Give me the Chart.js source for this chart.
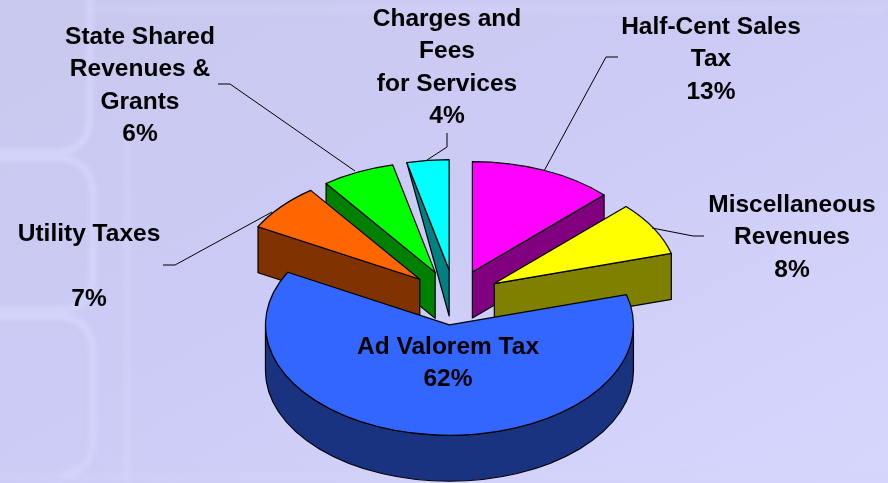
<!DOCTYPE html>
<html>
<head>
<meta charset="utf-8">
<title>Revenue sources</title>
<script src="https://cdn.jsdelivr.net/npm/chart.js@4"></script>
<style>
html,body{margin:0;padding:0;overflow:hidden;background:#cdcdf8}
#wrap{position:relative;width:888px;height:483px}
#wrap svg,#wrap canvas{position:absolute;left:0;top:0;display:block}
</style>
</head>
<body>
<div id="wrap">
<svg width="888" height="483" viewBox="0 0 888 483">
  <defs>
    <linearGradient id="bg" x1="0" y1="0" x2="1" y2="1">
      <stop offset="0" stop-color="#c8c8ee"/>
      <stop offset="0.45" stop-color="#cbcbf6"/>
      <stop offset="1" stop-color="#d6d6fd"/>
    </linearGradient>
    <filter id="soft"><feGaussianBlur stdDeviation="2"/></filter>
  </defs>
  <rect width="888" height="483" fill="url(#bg)"/>
  <g fill="none" stroke="#d3d3fa" stroke-width="7" filter="url(#soft)">
    <path d="M-10 152H55Q90 152 90 115V-10"/>
    <path d="M-10 158H55Q93 158 93 195V275Q93 310 58 310H-10"/>
    <path d="M-10 316H55Q93 316 93 355V440Q93 472 60 476"/>
    <path d="M127 130V483" opacity="0.6"/>
    <path d="M95 9H888" opacity="0.45"/>
    <path d="M-10 477H888" opacity="0.35"/>
  </g>
</svg>
<canvas id="chart" width="888" height="483"></canvas>
</div>
<script>
// Data (clockwise from twelve o'clock)
const categories = ["Half-Cent Sales Tax", "Miscellaneous Revenues", "Ad Valorem Tax", "Utility Taxes", "State Shared Revenues & Grants", "Charges and Fees for Services"];
const shares = [12.7, 7.9, 62.3, 7.0, 6.4, 3.7];
const labelLines = [
  ["Half-Cent Sales", "Tax"],
  ["Miscellaneous", "Revenues"],
  ["Ad Valorem Tax"],
  ["Utility Taxes", ""],
  ["State Shared", "Revenues &", "Grants"],
  ["Charges and", "Fees", "for Services"]
];

// Styling and layout
const topColors = ["#FF00FF", "#FFFF00", "#3366FF", "#FF6600", "#00FF00", "#00FFFF"];
const wallColors = ["#800080", "#808000", "#1A3380", "#803300", "#008000", "#008080"];
const wallOrder = [5, 4, 3, 0, 1, 2];
const TILT = 0.6, DEPTH = 46, RADIUS = 184, EXPLODE = 46;
const PIE_X = 454.5, PIE_Y = 297.4;
const labelCentres = [[711, 27.5], [792, 205.5], [448, 347.5], [89, 234.5], [140, 37.5], [447, 19.5]];
const LINE_GAP = 32.2;
const leaders = [
  [[544, 171], [606, 57], [618, 57]],
  [[652, 228], [693, 236], [704, 236]],
  [[427, 160], [447, 147], [447, 133]],
  [[355, 171], [230, 84], [218, 84]],
  [[272, 212], [175, 265], [163, 265]]
];

function midAngle(el) { return (el.startAngle + el.endAngle) / 2; }
function project(el, angle, r) {
  const m = midAngle(el);
  return {
    x: PIE_X + EXPLODE * Math.cos(m) + r * Math.cos(angle),
    y: PIE_Y + (EXPLODE * Math.sin(m) + r * Math.sin(angle)) * TILT
  };
}
function outline(ctx) {
  ctx.strokeStyle = "#000";
  ctx.lineWidth = 1.2;
  ctx.lineJoin = "round";
  ctx.stroke();
}

const pie3d = {
  id: "pie3d",
  beforeDatasetDraw(chart) {
    const ctx = chart.ctx, arcs = chart.getDatasetMeta(0).data;
    // Side walls, back to front
    wallOrder.forEach(i => {
      const el = arcs[i], apex = project(el, 0, 0);
      ctx.beginPath();
      if (el.endAngle - el.startAngle > Math.PI) {
        const cx = apex.x, cy = apex.y, rx = el.outerRadius, ry = el.outerRadius * TILT;
        ctx.ellipse(cx, cy, rx, ry, 0, 0, Math.PI);
        ctx.lineTo(cx - rx, cy + DEPTH);
        ctx.ellipse(cx, cy + DEPTH, rx, ry, 0, Math.PI, 0, true);
        ctx.closePath();
      } else {
        const useEnd = Math.cos(midAngle(el)) > 0;
        const rim = project(el, useEnd ? el.endAngle : el.startAngle, el.outerRadius);
        ctx.moveTo(rim.x, rim.y);
        ctx.lineTo(apex.x, apex.y);
        ctx.lineTo(apex.x, apex.y + DEPTH);
        if (i !== 5) ctx.lineTo(rim.x, rim.y + DEPTH);
        ctx.closePath();
      }
      ctx.fillStyle = wallColors[i];
      ctx.fill();
      outline(ctx);
    });
    // The library's own arc elements, each exploded and squashed
    arcs.forEach(el => {
      const a = project(el, 0, 0);
      ctx.save();
      ctx.translate(a.x, a.y);
      ctx.scale(1, TILT);
      ctx.translate(-el.x, -el.y);
      el.draw(ctx, chart.chartArea);
      ctx.restore();
    });
    // Outlines stroked outside the squash so the width stays even
    arcs.forEach(el => {
      const apex = project(el, 0, 0);
      ctx.save();
      ctx.translate(apex.x, apex.y);
      ctx.scale(1, TILT);
      ctx.beginPath();
      ctx.moveTo(0, 0);
      ctx.arc(0, 0, el.outerRadius, el.startAngle, el.endAngle);
      ctx.closePath();
      ctx.restore();
      outline(ctx);
    });
    return false;
  },
  afterDraw(chart) {
    const ctx = chart.ctx;
    ctx.save();
    ctx.strokeStyle = "#000";
    ctx.lineWidth = 1;
    leaders.forEach(pts => {
      ctx.beginPath();
      pts.forEach((p, k) => k ? ctx.lineTo(p[0], p[1]) : ctx.moveTo(p[0], p[1]));
      ctx.stroke();
    });
    ctx.fillStyle = "#000";
    ctx.font = "bold 24.5px 'Liberation Sans', Arial, sans-serif";
    ctx.textAlign = "center";
    ctx.textBaseline = "middle";
    labelLines.forEach((lines, i) => {
      const all = lines.concat([Math.round(shares[i]) + "%"]);
      all.forEach((t, k) => {
        if (t) ctx.fillText(t, labelCentres[i][0], labelCentres[i][1] + k * LINE_GAP);
      });
    });
    ctx.restore();
  }
};

new Chart(document.getElementById("chart"), {
  type: "pie",
  data: {
    labels: categories,
    datasets: [{
      data: shares,
      backgroundColor: topColors,
      borderWidth: 0,
      clip: false
    }]
  },
  options: {
    responsive: false,
    animation: false,
    events: [],
    radius: RADIUS,
    layout: { padding: 0 },
    plugins: { legend: { display: false }, tooltip: { enabled: false }, title: { display: false } }
  },
  plugins: [pie3d]
});
</script>
</body>
</html>
